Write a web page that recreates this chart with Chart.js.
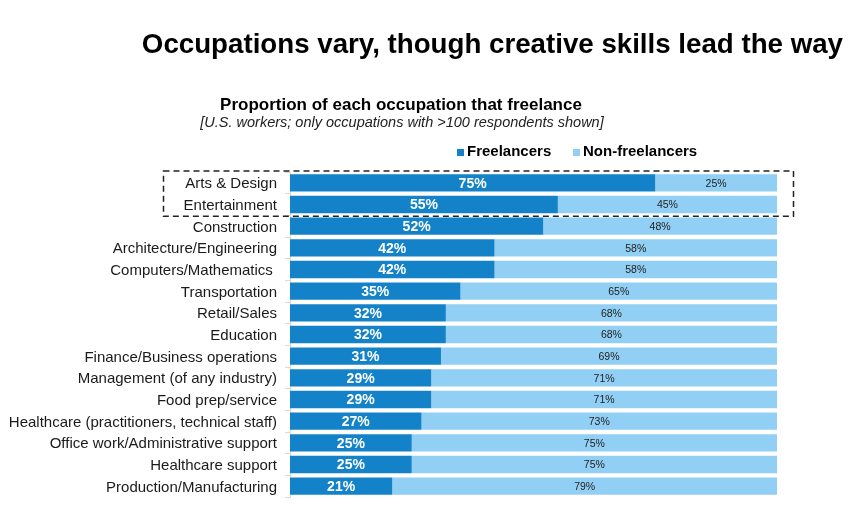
<!DOCTYPE html>
<html>
<head>
<meta charset="utf-8">
<script src="https://cdn.jsdelivr.net/npm/chart.js@4"></script>
<style>
  html, body { margin: 0; padding: 0; background: #fff; }
  #wrap { width: 862px; height: 519px; position: relative; }
</style>
</head>
<body>
<div id="wrap"><canvas id="occChart" width="862" height="519"></canvas></div>
<script>
const occupations = [
  "Arts & Design",
  "Entertainment",
  "Construction",
  "Architecture/Engineering",
  "Computers/Mathematics ",
  "Transportation",
  "Retail/Sales",
  "Education",
  "Finance/Business operations",
  "Management (of any industry)",
  "Food prep/service",
  "Healthcare (practitioners, technical staff)",
  "Office work/Administrative support",
  "Healthcare support",
  "Production/Manufacturing"
];
const freelancers = [75, 55, 52, 42, 42, 35, 32, 32, 31, 29, 29, 27, 25, 25, 21];
const nonFreelancers = [25, 45, 48, 58, 58, 65, 68, 68, 69, 71, 71, 73, 75, 75, 79];

const DARK = "#1482c8";
const LIGHT = "#92cff4";
const FONT = "'Liberation Sans', Arial, sans-serif";

// titles, legend, dashed highlight box
const decorations = {
  id: "decorations",
  afterDraw(chart) {
    const c = chart.ctx;
    c.save();
    c.fillStyle = "#000";
    c.textBaseline = "alphabetic";

    c.font = "bold 27.7px " + FONT;
    c.textAlign = "right";
    c.fillText("Occupations vary, though creative skills lead the way", 843, 53);

    c.textAlign = "center";
    c.font = "bold 17px " + FONT;
    c.fillText("Proportion of each occupation that freelance", 401, 110);
    c.font = "italic 14.5px " + FONT;
    c.fillStyle = "#222";
    c.fillText("[U.S. workers; only occupations with >100 respondents shown]", 402, 127);

    // legend
    c.textAlign = "left";
    c.font = "bold 15px " + FONT;
    c.fillStyle = DARK;
    c.fillRect(457, 149, 7, 7);
    c.fillStyle = "#000";
    c.fillText("Freelancers", 467, 156);
    c.fillStyle = LIGHT;
    c.fillRect(573, 149, 7, 7);
    c.fillStyle = "#000";
    c.fillText("Non-freelancers", 583, 156);

    // dashed box around the two creative rows
    const y = chart.scales.y;
    const half = (y.getPixelForValue(1) - y.getPixelForValue(0)) / 2;
    const top = y.getPixelForValue(0) - half - 1;
    const bottom = y.getPixelForValue(1) + half + 1;
    c.strokeStyle = "#222";
    c.lineWidth = 1.5;
    c.setLineDash([6, 4]);
    c.strokeRect(163.5, top, 630, bottom - top);
    c.restore();
  }
};

// value labels inside the bars
const barLabels = {
  id: "barLabels",
  afterDatasetsDraw(chart) {
    const c = chart.ctx;
    c.save();
    c.textAlign = "center";
    c.textBaseline = "middle";
    chart.data.datasets.forEach((ds, di) => {
      const meta = chart.getDatasetMeta(di);
      meta.data.forEach((bar, i) => {
        const cx = (bar.x + bar.base) / 2;
        if (di === 0) {
          c.font = "bold 14px " + FONT;
          c.fillStyle = "#fff";
        } else {
          c.font = "10.5px " + FONT;
          c.fillStyle = "#222";
        }
        c.fillText(ds.data[i] + "%", cx, bar.y + 1);
      });
    });
    c.restore();
  }
};

new Chart(document.getElementById("occChart").getContext("2d"), {
  type: "bar",
  data: {
    labels: occupations,
    datasets: [
      { label: "Freelancers", data: freelancers, backgroundColor: DARK, barPercentage: 1, categoryPercentage: 0.8 },
      { label: "Non-freelancers", data: nonFreelancers, backgroundColor: LIGHT, barPercentage: 1, categoryPercentage: 0.8 }
    ]
  },
  options: {
    indexAxis: "y",
    responsive: false,
    animation: false,
    layout: { padding: { top: 172, right: 85, bottom: 22, left: 0 } },
    plugins: {
      legend: { display: false },
      tooltip: { enabled: false }
    },
    scales: {
      x: { stacked: true, min: 0, max: 100, display: false },
      y: {
        stacked: true,
        afterFit(s) { s.width = 290; },
        grid: { display: true, drawOnChartArea: false, offset: true, tickLength: 5, color: "#d9d9d9" },
        border: { display: true, color: "#d9d9d9" },
        ticks: { color: "#1a1a1a", padding: 8, labelOffset: 1.5, font: { family: FONT, size: 15 } }
      }
    }
  },
  plugins: [barLabels, decorations]
});
</script>
</body>
</html>
